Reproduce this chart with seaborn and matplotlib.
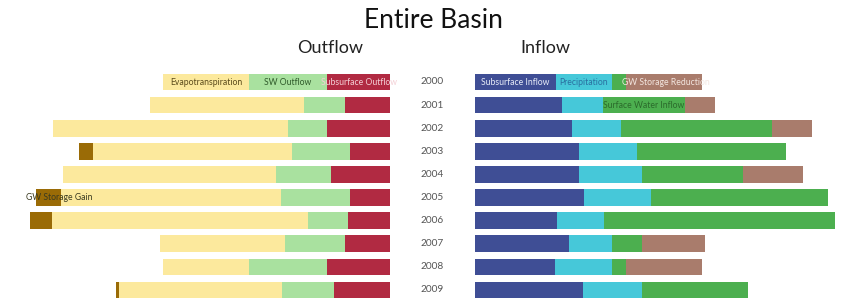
import matplotlib
matplotlib.use("Agg")
import matplotlib.pyplot as plt
import seaborn as sns

years = ["2000", "2001", "2002", "2003", "2004", "2005", "2006", "2007", "2008", "2009"]

# outflow components
subsurface_out = [63, 45, 63, 40, 59, 40, 42, 45, 63, 56]
sw_out = [78, 41, 39, 58, 55, 69, 40, 60, 78, 52]
evapotranspiration = [86, 154, 235, 199, 213, 220, 256, 125, 86, 163]
gw_gain = [0, 0, 0, 14, 0, 25, 22, 0, 0, 3]

# inflow components
subsurface_in = [81, 87, 97, 104, 104, 109, 82, 94, 80, 108]
precipitation = [56, 41, 49, 58, 63, 67, 47, 43, 57, 59]
sw_in = [14, 82, 151, 149, 101, 177, 231, 30, 14, 106]
gw_reduction = [76, 30, 40, 0, 60, 0, 0, 63, 76, 0]

out_colors = ["#b12a42", "#a9e19f", "#fce99d", "#9a6b06"]
in_colors = ["#3f4e95", "#46c8d9", "#4caf4f", "#a97c6c"]
FS = 6.2


def cumulate(parts):
    out, run = [], [0] * len(parts[0])
    for p in parts:
        run = [a + b for a, b in zip(run, p)]
        out.append(run)
    return out


def stacked(ax, parts, colors):
    # seaborn has no stacking, so draw the running totals biggest first
    cums = cumulate(parts)
    for cum, col in reversed(list(zip(cums, colors))):
        sns.barplot(x=cum, y=years, orient="h", color=col, saturation=1,
                    width=0.72, linewidth=0, ax=ax)
    ax.set_ylim(len(years) - 0.5, -0.5)
    ax.axis("off")
    return cums


def label(ax, cums, seg, row, text, color):
    lo = cums[seg - 1][row] if seg > 0 else 0
    hi = cums[seg][row]
    t = ax.text((lo + hi) / 2, row, text, ha="center", va="center",
                fontsize=FS, color=color, family="Lato")
    # bars were drawn in reverse order, so segment k sits in container n-1-k
    t.set_clip_path(ax.containers[len(cums) - 1 - seg][row])


sns.set_theme(style="white")
fig = plt.figure(figsize=(8.46, 3.0), dpi=100)

ax_out = fig.add_axes([0, -0.005, 390 / 846, 0.77])
ax_in = fig.add_axes([475 / 846, -0.005, 371 / 846, 0.77])

cum_out = stacked(ax_out, [subsurface_out, sw_out, evapotranspiration, gw_gain], out_colors)
ax_out.set_xlim(390, 0)
cum_in = stacked(ax_in, [subsurface_in, precipitation, sw_in, gw_reduction], in_colors)
ax_in.set_xlim(0, 371)

# labels written inside the bars
label(ax_out, cum_out, 2, 0, "Evapotranspiration", "#5a4a1a")
label(ax_out, cum_out, 1, 0, "SW Outflow", "#2f5a2a")
label(ax_out, cum_out, 0, 0, "Subsurface Outflow", "#f4d0d6")
ax_out.text(cum_out[3][5] + 10, 5, "GW Storage Gain", ha="left", va="center",
            fontsize=FS, color="#3a3a20", family="Lato")

label(ax_in, cum_in, 0, 0, "Subsurface Inflow", "#e8ecf8")
label(ax_in, cum_in, 1, 0, "Precipitation", "#2a6fa0")
t = ax_in.text(cum_in[1][0] + 10, 0, "GW Storage Reduction", ha="left", va="center",
               fontsize=FS, color="#f3e6e0", family="Lato")
t.set_clip_path(ax_in.containers[0][0])
label(ax_in, cum_in, 2, 1, "Surface Water Inflow", "#2b6a2b")

for i, y in enumerate(years):
    fig.text(432 / 846, 1 - (82 + i * 23.1) / 300, y, ha="center", va="center",
             fontsize=7.3, color="#555555", family="Lato")

fig.text(433 / 846, 1 - 20 / 300, "Entire Basin", ha="center", va="center",
         fontsize=19, color="#111111", family="Lato")
fig.text(330 / 846, 1 - 48 / 300, "Outflow", ha="center", va="center",
         fontsize=13, color="#222222", family="Lato")
fig.text(545 / 846, 1 - 48 / 300, "Inflow", ha="center", va="center",
         fontsize=13, color="#222222", family="Lato")

fig.savefig("out.png", dpi=100)
